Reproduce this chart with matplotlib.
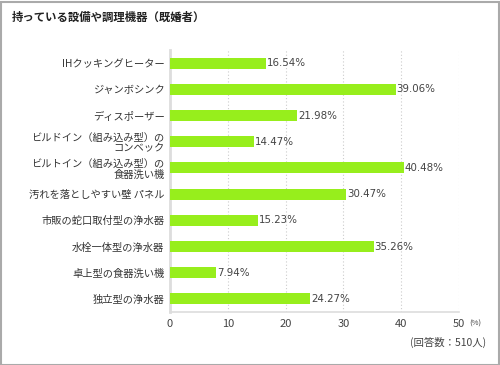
import matplotlib
matplotlib.use("Agg")
import matplotlib.pyplot as plt
from matplotlib.patches import Rectangle

plt.rcParams['font.family'] = ['Noto Sans CJK JP', 'DejaVu Sans']

title = "持っている設備や調理機器（既婚者）"
categories = ["IHクッキングヒーター", "ジャンボシンク", "ディスポーザー",
              "ビルドイン（組み込み型）の\nコンベック", "ビルトイン（組み込み型）の\n食器洗い機",
              "汚れを落としやすい壁 パネル", "市販の蛇口取付型の浄水器",
              "水栓一体型の浄水器", "卓上型の食器洗い機", "独立型の浄水器"]
values = [16.54, 39.06, 21.98, 14.47, 40.48, 30.47, 15.23, 35.26, 7.94, 24.27]
xticks = [0, 10, 20, 30, 40, 50]
note = "(回答数：510人)"

W, H = 500, 365
fig = plt.figure(figsize=(W/100, H/100), dpi=100)
fig.patch.set_facecolor('white')

# border
fig.add_artist(Rectangle((0.5/W, 0.5/H), 1-2/W, 1-2.5/H, transform=fig.transFigure,
                         fill=False, edgecolor='#aaaaaa', linewidth=1.5))

ax_l, ax_r, ax_t, ax_b = 170, 459, 50, 312
ax = fig.add_axes([ax_l/W, 1-ax_b/H, (ax_r-ax_l)/W, (ax_b-ax_t)/H])

n = len(categories)
ys = list(range(n))
ax.barh(ys, values, height=0.42, color='#97ee1c', zorder=3)
ax.set_ylim(n-0.5, -0.5)
ax.set_xlim(0, 50)

for y, v in zip(ys, values):
    ax.text(v + 0.15, y, f"{v:.2f}%", va='center', ha='left', fontsize=7.4,
            color='#444444', family=['DejaVu Sans'], zorder=4)

ax.set_yticks(ys)
ax.set_yticklabels(categories, fontsize=7.4, color='#333333', linespacing=1.12)
ax.set_xticks(xticks)
ax.set_xticklabels([str(t) for t in xticks], fontsize=8, color='#444444')
ax.tick_params(axis='both', length=0)
ax.tick_params(axis='y', pad=4)
ax.tick_params(axis='x', pad=5)

for t in xticks[1:]:
    ax.axvline(t, color='#cccccc', linestyle=(0, (1, 2)), linewidth=0.8, zorder=1)

for s in ['top', 'right']:
    ax.spines[s].set_visible(False)
ax.spines['left'].set_color('#dddddd')
ax.spines['left'].set_linewidth(2)
ax.spines['bottom'].set_color('#dddddd')
ax.spines['bottom'].set_linewidth(1.2)

fig.text(12/W, 1-17/H, title, fontsize=8.2, fontweight='bold', color='#222222',
         va='center', ha='left')
fig.text(469/W, 1-324/H, "(%)", fontsize=5.5, color='#444444', va='center', ha='left')
fig.text(486/W, 1-342/H, note, fontsize=7.5, color='#444444', va='center', ha='right')

fig.savefig("out.png", dpi=100, facecolor='white')
